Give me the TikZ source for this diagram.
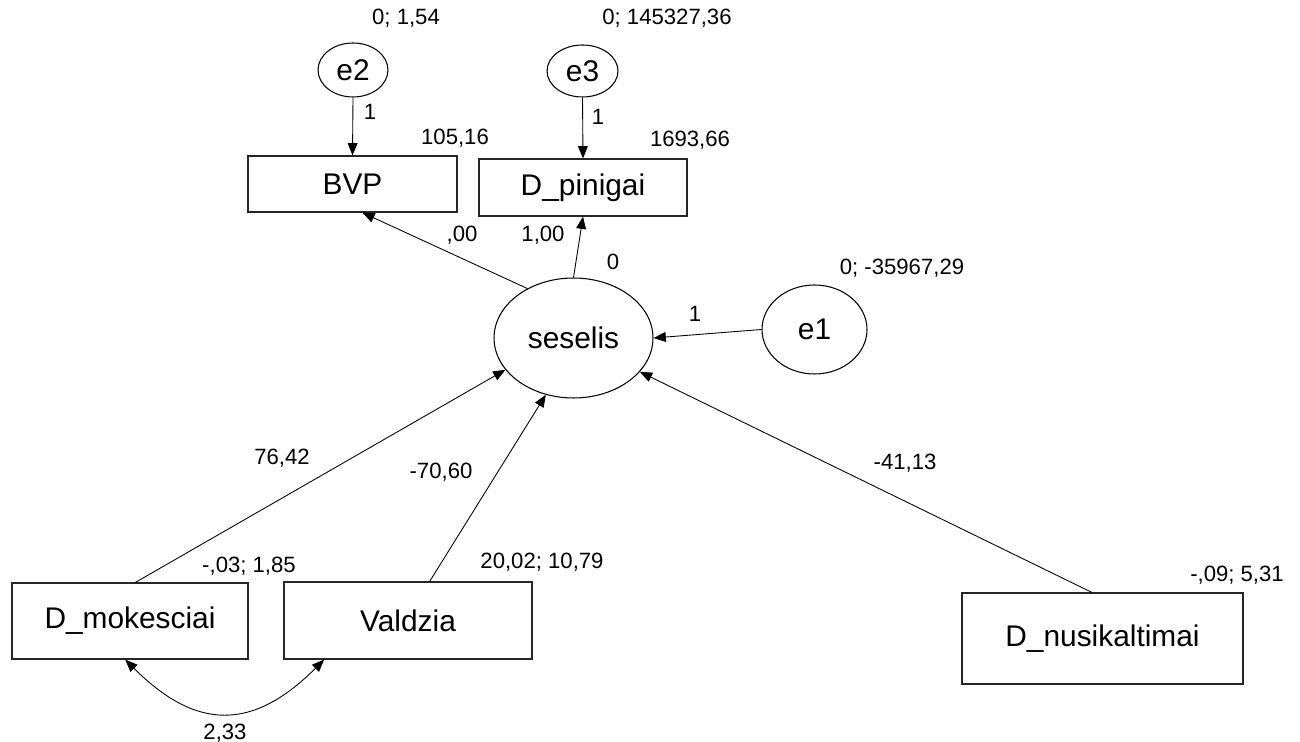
\documentclass[tikz,border=0pt]{standalone}
\usepackage{fontspec}
\setmainfont{Liberation Sans}
\usetikzlibrary{arrows.meta,shapes,positioning}
\begin{document}
\begin{tikzpicture}[x=0.02cm,y=0.02cm,>={Triangle[length=7pt,width=5.6pt]},bend angle=45]%sem model

      \tikzstyle{latent}=[ellipse,draw=black,line width=0.6pt,inner sep=0pt,
      			  font=\fontsize{17}{20}\selectfont]
      \tikzstyle{observed}=[rectangle,draw=black!85,line width=0.7pt,inner sep=0pt,
      			  font=\fontsize{17}{20}\selectfont]
      \tikzstyle{estimate}=[inner sep=0pt,text height=0.72em,text depth=0pt,
      			  font=\fontsize{12.6}{15}\selectfont]
      \tikzstyle{post}=[->,line width=0.5pt]
      \tikzstyle{cov}=[<->,line width=0.5pt]

      \useasboundingbox (0,0) rectangle (1300,-742);

      %latent and error terms
      \node [latent,minimum width=3.18cm,minimum height=2.4cm] (ses) at (573.5,-338) {seselis};
      \node [latent,minimum width=1.4cm,minimum height=1.08cm] (e2) at (353,-70) {e2};
      \node [latent,minimum width=1.42cm,minimum height=1.04cm] (e3) at (582.5,-71) {e3};
      \node [latent,minimum width=2.1cm,minimum height=1.78cm] (e1) at (814.5,-329.5) {e1};

      %boxes
      \node [observed,minimum width=4.18cm,minimum height=1.12cm] (bvp) at (352.5,-184) {BVP};
      \node [observed,minimum width=4.16cm,minimum height=1.14cm] (pin) at (583,-187.5) {D\_pinigai};
      \node [observed,minimum width=4.72cm,minimum height=1.52cm] (mok) at (130,-621) {D\_mokesciai};
      \node [observed,minimum width=4.96cm,minimum height=1.54cm] (val) at (408,-620.5) {Valdzia};
      \node [observed,minimum width=5.62cm,minimum height=1.82cm] (nus) at (1102.5,-638.5) {D\_nusikaltimai};

      %paths
      \path (e2.south) edge [post] (bvp.north);
      \path (e3.south) edge [post] (pin.north);
      \path (ses.133.5) edge [post] (bvp.-71);
      \path (ses.north) edge [post] (pin.south);
      \path (e1.west) edge [post] (ses.east);
      \path (mok.82) edge [post] (ses.205);
      \path (val.61) edge [post] (ses.244);
      \path (nus.103) edge [post] (ses.-27);
      \path (mok.-97) edge [cov,bend right,looseness=1.3] (val.205);

      %estimates
      \node [estimate] (ve2) at (406,-18) {0; 1,54};
      \node [estimate] (we2) at (370,-113) {1};
      \node [estimate] (ibvp) at (455,-138) {105,16};
      \node [estimate] (ve3) at (667,-18) {0; 145327,36};
      \node [estimate] (we3) at (598,-118) {1};
      \node [estimate] (ipin) at (690,-140) {1693,66};
      \node [estimate] (wbvp) at (462,-235) {,00};
      \node [estimate] (wpin) at (543,-235) {1,00};
      \node [estimate] (ises) at (613,-263) {0};
      \node [estimate] (we1) at (695,-315) {1};
      \node [estimate] (ve1) at (902,-268) {0; -35967,29};
      \node [estimate] (wmok) at (282,-458) {76,42};
      \node [estimate] (wval) at (441,-472) {-70,60};
      \node [estimate] (wnus) at (905,-463) {-41,13};
      \node [estimate] (vmok) at (249,-566) {-,03; 1,85};
      \node [estimate] (vval) at (542,-562) {20,02; 10,79};
      \node [estimate] (vnus) at (1237,-575) {-,09; 5,31};
      \node [estimate] (cmv) at (225,-733) {2,33};

\end{tikzpicture}
\end{document}
